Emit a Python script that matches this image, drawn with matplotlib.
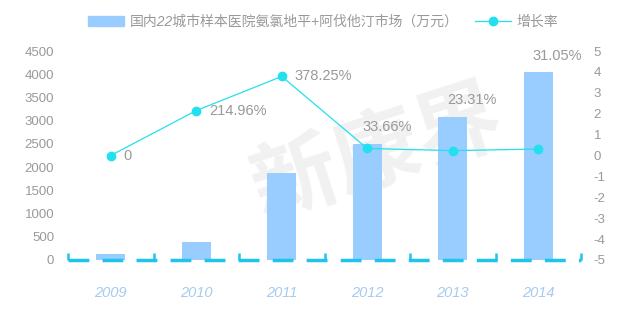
import matplotlib
matplotlib.use("Agg")
import matplotlib.pyplot as plt
from matplotlib.lines import Line2D
from matplotlib.patches import Patch

plt.rcParams['font.family'] = ['Liberation Sans', 'Noto Sans CJK SC']
plt.rcParams['axes.unicode_minus'] = False

years = ['2009', '2010', '2011', '2012', '2013', '2014']
market = [124, 391, 1870, 2500, 3083, 4040]
growth = [0.0, 2.1496, 3.7825, 0.3366, 0.2331, 0.3105]
growth_labels = ['0', '214.96%', '378.25%', '33.66%', '23.31%', '31.05%']
bar_name = '国内22城市样本医院氨氯地平+阿伐他汀市场（万元）'
line_name = '增长率'

bar_color = '#99CCFF'
line_color = '#22E0EE'
axis_color = '#1EC3EE'
label_gray = '#999999'

fig = plt.figure(figsize=(6.3, 3.1), dpi=100)
ax = fig.add_axes([68/630, 1-260/310, (581-68)/630, (260-51)/310])
ax2 = ax.twinx()

x = list(range(len(years)))
bars = ax.bar(x, market, width=0.34, color=bar_color, zorder=2)
ax.set_xlim(-0.5, len(years) - 0.5)
ax.set_ylim(0, 4500)
ax.set_yticks(range(0, 4501, 500))

ln, = ax2.plot(x, growth, color=line_color, lw=0.9, marker='o', ms=6,
               mfc=line_color, mec=line_color, zorder=5)
ax2.set_ylim(-5, 5)
ax2.set_yticks(range(-5, 6))

# watermark
fig.text(0.6, 0.5, '新康界', fontsize=62, color='#f1f1f1', fontweight='bold',
         rotation=18, ha='center', va='center', zorder=0,
         family=['Noto Sans CJK SC'])
ax.set_zorder(1)
ax2.set_zorder(2)
ax.patch.set_visible(False)
ax2.patch.set_visible(False)

for a in (ax, ax2):
    for s in ('top', 'left', 'right', 'bottom'):
        a.spines[s].set_visible(False)

ax.spines['bottom'].set_visible(True)
ax.spines['bottom'].set_color(axis_color)
ax.spines['bottom'].set_linewidth(2.5)
ax.spines['bottom'].set_linestyle((0, (6, 3.8)))
ax.spines['bottom'].set_capstyle('butt')

ax.set_xticks(x)
ax.set_xticklabels(years, fontsize=10.5, color='#A6CBEE', style='italic')
ax.tick_params(axis='x', length=0, pad=19)
ax.set_xticks([i - 0.5 for i in range(len(years) + 1)], minor=True)
ax.tick_params(axis='x', which='minor', direction='in', length=5, width=1.8,
               color=axis_color)

ax.tick_params(axis='y', length=0, labelsize=9.5, labelcolor=label_gray, pad=10)
ax2.tick_params(axis='y', length=0, labelsize=9.5, labelcolor=label_gray, pad=9)

for i in range(len(years)):
    if i < 3:
        ax2.annotate(growth_labels[i], (x[i], growth[i]), xytext=(9, 0),
                     textcoords='offset points', ha='left', va='center',
                     fontsize=10.5, color='#999999')
    else:
        ax.annotate(growth_labels[i], (x[i], market[i]), xytext=(14, 12),
                    textcoords='offset points', ha='center', va='center',
                    fontsize=10.5, color='#999999', zorder=6)

handles = [Patch(color=bar_color),
           Line2D([0], [0], color=line_color, lw=0.9, marker='o', ms=6)]
leg = fig.legend(handles, [bar_name, line_name], loc='center',
                 bbox_to_anchor=(0.513, 1-22/310), ncol=2, frameon=False,
                 fontsize=10, handlelength=2.6, handleheight=0.8,
                 columnspacing=1.2, handletextpad=0.4)
for t in leg.get_texts():
    t.set_color('#999999')
    t.set_style('italic')

fig.savefig('out.png', dpi=100)
